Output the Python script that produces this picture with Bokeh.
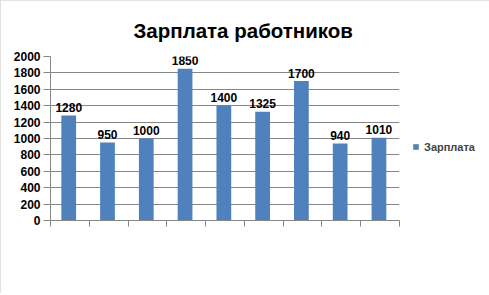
from bokeh.plotting import figure
from bokeh.models import Range1d, FixedTicker, ColumnDataSource, Legend, LegendItem
from bokeh.core.properties import value
from bokeh.embed import file_html
from bokeh.resources import INLINE

title_text = "Зарплата  работников"
series_name = "Зарплата"
salaries = [1280, 950, 1000, 1850, 1400, 1325, 1700, 940, 1010]
y_ticks = [0, 200, 400, 600, 800, 1000, 1200, 1400, 1600, 1800, 2000]

n = len(salaries)
xs = [i + 0.47 for i in range(n)]
src = ColumnDataSource(dict(x=xs, top=salaries, lbl=[str(v) for v in salaries]))

GRAY = "#868686"
BLUE = "#4f81bd"

p = figure(frame_width=349, frame_height=164, output_backend="svg", toolbar_location=None,
           x_range=Range1d(0, n), y_range=Range1d(0, 2000),
           min_border_left=50, min_border_right=89, min_border_top=56, min_border_bottom=73)
p.outline_line_color = None
p.background_fill_color = "white"
p.border_fill_color = "white"
p.styles = {"outline": "1px solid #d9d9d9", "outline-offset": "-1px"}

bars = p.vbar(x="x", top="top", width=0.38, bottom=0, source=src, fill_color=BLUE, line_color=None)

p.text(x="x", y="top", text="lbl", source=src, text_align="center", text_baseline="alphabetic",
       y_offset=-8, text_font=value("Liberation Sans"), text_font_style="bold",
       text_font_size="12px", text_color="black")

# axes
p.xgrid.grid_line_color = None
p.ygrid.grid_line_color = GRAY
p.ygrid.grid_line_width = 1
p.yaxis.ticker = FixedTicker(ticks=y_ticks)
p.xaxis.ticker = FixedTicker(ticks=list(range(n + 1)))
p.xaxis.major_label_text_font_size = "0px"
p.xaxis.major_label_text_color = None
p.xaxis.major_tick_out = 6
p.xaxis.major_tick_in = 0
p.xaxis.minor_tick_line_color = None
p.xaxis.axis_line_color = GRAY
p.xaxis.major_tick_line_color = GRAY
p.yaxis.major_tick_out = 7
p.yaxis.major_tick_in = 0
p.yaxis.minor_tick_line_color = None
p.yaxis.axis_line_color = GRAY
p.yaxis.major_tick_line_color = GRAY
p.yaxis.major_label_standoff = 3
p.yaxis.major_label_text_font = "Liberation Sans"
p.yaxis.major_label_text_font_style = "bold"
p.yaxis.major_label_text_font_size = "12px"
p.yaxis.major_label_text_color = "black"

# title
p.title.text = title_text
p.title.align = "left"
p.title.offset = 83
p.title.standoff = 30
p.title.text_font = "Liberation Sans"
p.title.text_font_style = "bold"
p.title.text_font_size = "20.5px"
p.title.text_color = "black"

legend = Legend(items=[LegendItem(label=series_name, renderers=[bars])],
                location=(13, 67), padding=0, margin=0, spacing=0,
                glyph_width=7, glyph_height=7, label_standoff=5, label_height=13,
                label_text_font="Liberation Sans", label_text_font_style="bold",
                label_text_font_size="11px", border_line_color=None,
                background_fill_alpha=0)
p.add_layout(legend, "right")

open("out.html", "w").write(file_html(p, INLINE))
